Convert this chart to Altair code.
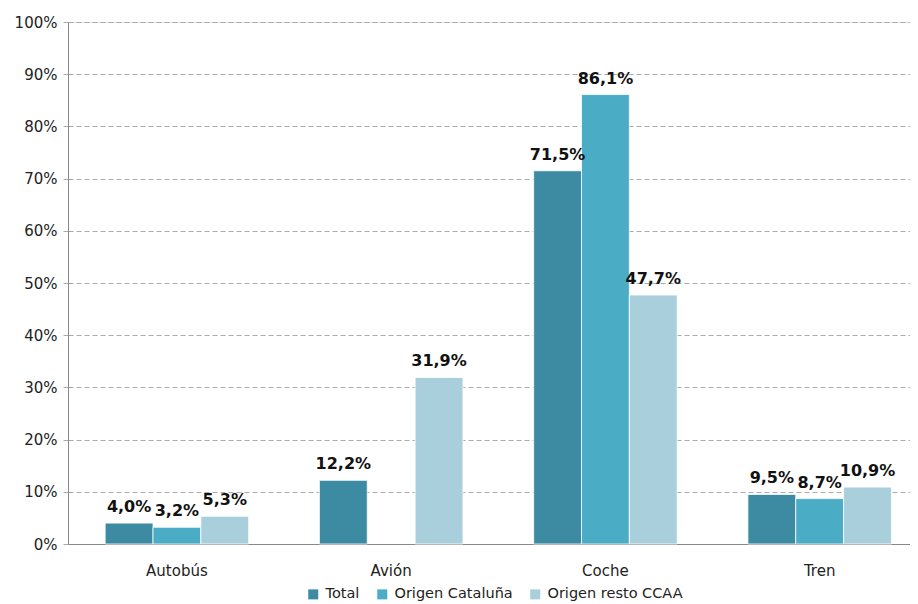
import altair as alt
import pandas as pd

title_text = "Año 2008"
categories = ["Autobús", "Avión", "Coche", "Tren"]
series = ["Total", "Origen Cataluña", "Origen resto CCAA"]
total = [4.0, 12.2, 71.5, 9.5]
cataluna = [3.2, None, 86.1, 8.7]
resto = [5.3, 31.9, 47.7, 10.9]
colors = ["#3d8ba3", "#4bacc6", "#a9cfdc"]
y_ticks = list(range(0, 101, 10))

rows = []
for s, vals in zip(series, [total, cataluna, resto]):
    for c, v in zip(categories, vals):
        if v is None:
            continue
        rows.append(dict(cat=c, serie=s, valor=v,
                         etiqueta=f"{v:.1f}".replace(".", ",") + "%"))
df = pd.DataFrame(rows)

FONT = "DejaVu Sans"

base = alt.Chart(df).encode(
    x=alt.X("cat:N", sort=categories,
            scale=alt.Scale(paddingInner=0.33, paddingOuter=0.13, align=0.667),
            axis=alt.Axis(title=None, labelAngle=0, ticks=False, domainColor="#888888",
                          labelPadding=19, labelFontSize=15, labelColor="#222222",
                          labelFont=FONT, grid=False)),
    xOffset=alt.XOffset("serie:N", sort=series,
                        scale=alt.Scale(paddingInner=0, paddingOuter=0)),
    y=alt.Y("valor:Q", scale=alt.Scale(domain=[0, 100]),
            axis=alt.Axis(title=None, values=y_ticks, labelExpr="datum.value + '%'",
                          grid=True, gridDash=[5, 3], gridColor="#aaaaaa",
                          domainColor="#888888", tickColor="#aaaaaa", tickSize=5,
                          tickDash=[5, 3],
                          labelPadding=6, labelFontSize=15, labelColor="#222222",
                          labelFont=FONT)),
)

bars = base.mark_bar(stroke="white", strokeWidth=0.8).encode(
    color=alt.Color("serie:N", sort=series,
                    scale=alt.Scale(domain=series, range=colors),
                    legend=alt.Legend(title=None, orient="none", direction="horizontal",
                                      legendX=238, legendY=565, symbolType="square",
                                      symbolSize=100, symbolStrokeWidth=0,
                                      labelFontSize=14.5, labelFont=FONT,
                                      labelColor="#222222", columnPadding=15,
                                      labelOffset=5))
)

labels = base.mark_text(dy=-16, fontSize=16, fontWeight="bold", font=FONT,
                        color="#111111").encode(text="etiqueta:N")

title = alt.Chart(pd.DataFrame({"t": [title_text]})).mark_text(
    align="right", baseline="alphabetic", fontSize=21, fontWeight="bold", font=FONT,
    color="#111111"
).encode(x=alt.value(829), y=alt.value(-22), text="t:N")

chart = alt.layer(bars, labels, title).properties(
    width=842, height=522,
    autosize=alt.AutoSizeParams(type="none"),
    padding={"left": 60, "top": 14, "right": 0, "bottom": 62},
).configure_view(stroke=None).configure(background="white")

chart.save("out.html", embed_options={"renderer": "svg", "actions": False})
